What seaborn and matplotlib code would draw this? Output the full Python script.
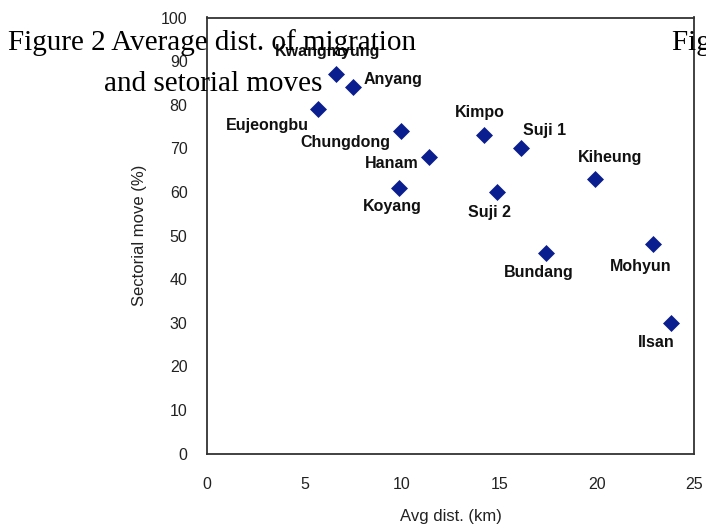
import matplotlib
matplotlib.use("Agg")
import matplotlib.pyplot as plt
import seaborn as sns
import pandas as pd

# ---- data ----
places = ["Kwangmyung", "Anyang", "Eujeongbu", "Chungdong", "Hanam", "Koyang",
          "Kimpo", "Suji 1", "Suji 2", "Kiheung", "Bundang", "Mohyun", "Ilsan"]
avg_dist = [6.6, 7.5, 5.7, 9.95, 11.4, 9.85, 14.2, 16.1, 14.9, 19.9, 17.4, 22.9, 23.8]
sector_move = [87, 84, 79, 74, 68, 61, 73, 70, 60, 63, 46, 48, 30]
x_ticks = [0, 5, 10, 15, 20, 25]
y_ticks = [0, 10, 20, 30, 40, 50, 60, 70, 80, 90, 100]
title_line1 = "Figure 2 Average dist. of migration"
title_line2 = "and setorial moves"

df = pd.DataFrame({"place": places, "dist": avg_dist, "move": sector_move})

# label layout (pixel offsets, ha)
label_layout = {
    "Kwangmyung": (-8, 23, "center"),
    "Anyang": (10, 8, "left"),
    "Eujeongbu": (-9, -16, "right"),
    "Chungdong": (-10, -12, "right"),
    "Hanam": (-10, -6, "right"),
    "Koyang": (-7, -19, "center"),
    "Kimpo": (-4, 23, "center"),
    "Suji 1": (2, 18, "left"),
    "Suji 2": (-8, -21, "center"),
    "Kiheung": (15, 21, "center"),
    "Bundang": (-7, -20, "center"),
    "Mohyun": (-12, -22, "center"),
    "Ilsan": (-14, -20, "center"),
}

sns.set_style("white")
plt.rcParams["font.family"] = ["Liberation Sans", "DejaVu Sans"]

W, H = 706, 532
fig = plt.figure(figsize=(W / 100, H / 100), dpi=100)
ax = fig.add_axes([207 / W, 1 - 453.6 / H, (694 - 207) / W, (453.6 - 17.5) / H])

sns.scatterplot(data=df, x="dist", y="move", marker="D", s=75, color="#0a1e8f",
                edgecolor="#0a1e8f", linewidth=0, ax=ax, zorder=3)

for p, xv, yv in zip(places, avg_dist, sector_move):
    dx, dy, ha = label_layout[p]
    ax.annotate(p, (xv, yv), xytext=(dx, dy), textcoords="offset pixels",
                ha=ha, va="center", fontsize=11.5, fontweight="bold", color="#111111",
                zorder=4)

ax.set_xlim(0, 25)
ax.set_ylim(0, 100)
ax.set_xticks(x_ticks)
ax.set_yticks(y_ticks)
ax.set_xticklabels([str(v) for v in x_ticks])
ax.set_yticklabels([str(v) for v in y_ticks])
ax.tick_params(axis="both", direction="in", length=5, width=1.1, color="#333333",
               labelsize=11.5, labelcolor="#222222")
ax.tick_params(axis="x", pad=17)
ax.tick_params(axis="y", pad=14)
for i in (0, 1, 5):
    ax.xaxis.get_major_ticks()[i].tick1line.set_visible(False)
for i in (0, 10):
    ax.yaxis.get_major_ticks()[i].tick1line.set_visible(False)

for sp in ax.spines.values():
    sp.set_visible(True)
    sp.set_color("#333333")
    sp.set_linewidth(1.3)

ax.set_xlabel("Avg dist. (km)", fontsize=12, color="#222222", labelpad=12)
ax.set_ylabel("Sectorial move (%)", fontsize=12, color="#222222", labelpad=10)

serif = ["Liberation Serif", "DejaVu Serif"]
fig.text(212 / W, 1 - 43 / H, title_line1, family=serif, fontsize=21,
         ha="center", va="center", color="black", zorder=10)
fig.text(213 / W, 1 - 84 / H, title_line2, family=serif, fontsize=21,
         ha="center", va="center", color="black", zorder=10)
fig.text(672 / W, 1 - 43 / H, "Figure 2", family=serif, fontsize=21,
         ha="left", va="center", color="black", zorder=10)

fig.savefig("out.png", dpi=100)
